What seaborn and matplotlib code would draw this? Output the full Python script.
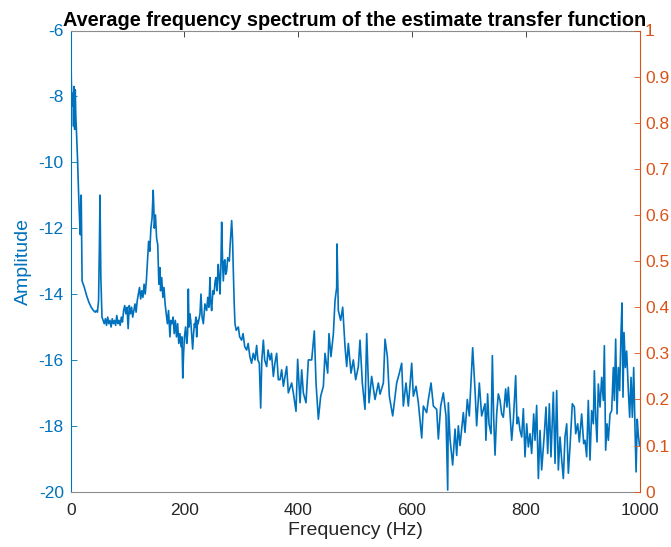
import numpy as np
import pandas as pd
import matplotlib
matplotlib.use("Agg")
import matplotlib.pyplot as plt
import seaborn as sns

# ---- data (frequency in Hz, amplitude) ----
seg_low = [(0, -6.0), (1, -7.5), (2, -8.1), (3, -8.3), (4, -7.9), (5, -8.9), (6, -7.7),
           (7, -9.0), (8, -7.8), (9, -8.6), (10, -9.0), (12, -9.9), (14, -11.0), (16, -11.9),
           (17, -12.2), (18.5, -11.0), (20, -13.6), (22, -13.7), (24, -13.8), (28, -14.05),
           (32, -14.25), (36, -14.4), (40, -14.5), (43, -14.55), (45, -14.5), (47, -14.55),
           (49, -14.2), (50.5, -12.5), (51.5, -11.0), (53, -13.5), (55, -14.7), (57, -14.8)]

seg_mid1 = [(59, -14.9), (61, -14.75), (63, -14.95), (65, -14.7), (67, -14.9), (69, -14.8),
            (71, -15.0), (73, -14.75), (75, -14.9), (77, -14.8), (79, -14.95), (81, -14.65),
            (83, -14.9), (85, -14.8), (87, -14.95), (89, -14.7), (91, -14.85), (93, -14.5),
            (95, -14.35), (97, -14.6), (99, -14.4), (101, -15.05), (103, -14.35), (105, -14.6),
            (107, -14.4), (109, -14.7), (111, -14.5), (113, -14.3), (115, -14.55), (117, -14.2),
            (119, -14.0), (121, -13.8), (123, -14.15), (125, -13.9), (127, -14.1), (129, -13.7),
            (131, -14.0), (133, -13.6), (135, -13.0), (137, -12.4), (139, -12.7), (141, -12.0),
            (143, -11.7), (145, -10.85), (146, -11.3), (147, -12.0), (149, -11.6), (151, -12.3),
            (153, -12.5), (155, -13.7), (157, -13.2), (158, -13.9), (160, -13.5), (162, -14.1),
            (164, -13.8), (166, -14.3), (168, -14.6), (170, -14.9), (172, -14.5), (174.5, -15.3),
            (176, -14.8), (178, -14.9)]

seg_mid2 = [(180, -14.7), (182, -15.2), (184, -14.8), (186, -15.3), (188, -14.9), (190, -15.5),
            (192, -15.2), (194, -15.6), (195.5, -15.3), (197, -16.55), (198.5, -15.8), (200, -15.3),
            (202, -15.0), (204, -15.5), (205.5, -15.2), (206.8, -13.85), (208, -15.0), (209.5, -14.6),
            (211, -14.8), (212.5, -15.2), (214.4, -15.67), (216, -15.2), (217.5, -14.9), (218.5, -15.0),
            (220, -14.7), (221.5, -15.3), (223, -14.8), (224, -14.9), (227.3, -14.6), (229, -14.0),
            (231, -14.7), (233.2, -14.9), (236, -14.3), (239, -14.5), (241, -14.1), (243, -14.4),
            (244.9, -13.5), (246, -14.2), (247.8, -14.5), (250, -13.9), (251.9, -14.0), (254, -13.6),
            (255.4, -13.5), (257, -13.9), (259.5, -13.1), (261, -13.5), (262.4, -14.0), (264, -13.2),
            (265.4, -11.82), (267, -13.0), (268.3, -13.6), (270, -13.0), (271.2, -12.96), (272.5, -13.4),
            (274.2, -13.3), (276, -12.9), (278.9, -13.0), (280, -12.6), (281.5, -12.2), (283, -11.77),
            (284.5, -12.3), (285.9, -13.3), (287.5, -14.3), (288.8, -14.9)]

seg_mid3 = [(291, -15.1), (294.7, -15.0), (297, -15.3), (300.5, -15.4), (303, -15.2), (306, -15.6),
            (309.3, -15.7), (312, -15.5), (315, -15.9), (318, -16.1), (321, -15.8), (324, -16.0),
            (326.9, -15.56), (329, -16.0), (331.6, -16.1), (334, -17.46), (336, -16.0), (338.7, -15.4),
            (341, -16.0), (344.5, -16.2), (347, -15.7), (350.4, -16.0), (353, -15.8), (356.3, -16.5),
            (359, -16.1), (362.1, -15.8), (365, -16.6)]

seg_mid4 = [(368, -16.6), (370.9, -16.3), (373.9, -16.8), (379.7, -16.2), (382.6, -17.0),
            (388.5, -16.7), (391.4, -17.0), (396.1, -17.56), (399, -15.98), (403.2, -17.3),
            (406.1, -16.3), (409, -17.0), (413.7, -17.3), (417.8, -16.0), (423.7, -16.0),
            (428.3, -15.12), (431.3, -16.7), (435.4, -17.8), (439.5, -17.1), (444.2, -16.8),
            (447.1, -15.8), (451.8, -16.4), (454.1, -15.2), (457.6, -15.9), (461.8, -15.2),
            (464.7, -14.2), (467.6, -13.8), (468.2, -12.48), (470.5, -14.5), (474.6, -14.8),
            (478.2, -14.4), (482.3, -15.6), (485.2, -16.2), (488.1, -15.5), (492.8, -16.4),
            (496.9, -16.0), (501, -16.6), (505.7, -16.2), (508.6, -15.4), (512.7, -16.7),
            (517.4, -17.5), (520.4, -15.2), (524.5, -17.3), (529.1, -16.5), (535, -17.2),
            (540.9, -16.7)]

seg_high1 = [(543.8, -17.04), (549.7, -16.7), (552.6, -15.37), (556.7, -15.9), (560.2, -17.1),
             (566.1, -17.7), (573.1, -16.7), (577.8, -16.4), (581.9, -16.1), (584.8, -17.4),
             (589.5, -16.7), (593.6, -17.4), (599.5, -16.1), (602.4, -17.1), (607.1, -16.8),
             (611.2, -17.3), (617.1, -18.37), (620, -17.4), (625.8, -17.6), (628.8, -17.2),
             (633.5, -16.7), (637.6, -17.4), (643.4, -17.5), (646.4, -18.4), (650.5, -17.4),
             (655.1, -17.0), (659.8, -17.7), (662.8, -19.95), (663.9, -17.3), (666.9, -18.4),
             (671.5, -19.19), (675.7, -18.1), (678.6, -18.9), (681.5, -18.0), (684.4, -18.6),
             (690.3, -17.6), (693.2, -18.2), (697.3, -17.2), (700.8, -17.7), (706.7, -15.63),
             (710.8, -16.9), (713.7, -18.0), (718.4, -16.7), (722.5, -17.7)]

seg_high2 = [(728.4, -17.33), (730, -18.44), (733, -17.03), (735.4, -17.94), (739, -18.24),
             (741.3, -15.87), (743.6, -17.74), (746, -18.89), (748.9, -17.64), (751.8, -17.03),
             (754.8, -17.23), (757.7, -17.64), (760.6, -17.74), (764.7, -16.88), (767, -17.43),
             (769.4, -16.83), (772.3, -17.64), (775.3, -18.44), (778.2, -17.84), (782.3, -16.48),
             (784.7, -17.94), (787, -17.74), (790, -18.14), (792.9, -18.34), (795.8, -17.48),
             (798.7, -18.94), (801.7, -17.94), (804.6, -18.64), (807.5, -18.24), (810.4, -18.84),
             (814, -17.64), (816.3, -18.44), (819.2, -17.38), (822.2, -19.6), (825.1, -18.14),
             (828, -19.34), (832.7, -18.24), (835.6, -17.43), (838.6, -18.84), (841.5, -17.33),
             (844.4, -18.94), (848.5, -16.98), (851.5, -19.14), (854.4, -16.93), (857.3, -19.34),
             (860.3, -18.34), (863.2, -19.04), (866.1, -19.6), (869, -18.34), (872, -17.94),
             (874.9, -19.44), (877.8, -18.64), (881.9, -17.33), (885.5, -17.43), (887.8, -18.24),
             (891.3, -17.94), (894.2, -18.49), (898.3, -17.64), (901.9, -18.54)]

seg_high3 = [(904.2, -18.44), (907.1, -18.94), (910, -17.23), (913, -19.04), (915.9, -17.54),
             (918.9, -17.94), (920.6, -16.33), (923, -17.74), (925.3, -18.49), (927.6, -16.73),
             (930.6, -17.43), (933.5, -16.53), (936.4, -17.23), (938.2, -15.57), (940.5, -18.74),
             (942.9, -17.94), (945.2, -18.44), (948.2, -17.64), (951.1, -17.54), (954, -16.23),
             (955.8, -17.23), (958.1, -15.37), (960.5, -17.64), (962.8, -16.23), (965.1, -16.93),
             (967.5, -15.17), (969.2, -14.27), (971, -17.13), (972.8, -15.17), (975.1, -16.23),
             (977.4, -15.73), (980.4, -16.93), (982.7, -17.74), (985.1, -16.53), (987.4, -17.74),
             (989.8, -16.23), (992, -18.0), (994, -19.4), (996, -17.8), (998, -18.3), (1000, -18.6)]

left_ticks = [-20, -18, -16, -14, -12, -10, -8, -6]
right_ticks = [0, 0.1, 0.2, 0.3, 0.4, 0.5, 0.6, 0.7, 0.8, 0.9, 1]
right_labels = ["0", "0.1", "0.2", "0.3", "0.4", "0.5", "0.6", "0.7", "0.8", "0.9", "1"]
x_ticks = [0, 200, 400, 600, 800, 1000]

segments = [seg_low, seg_mid1, seg_mid2, seg_mid3, seg_mid4, seg_high1, seg_high2, seg_high3]
df = pd.DataFrame([p for s in segments for p in s], columns=["freq", "amp"])
df = df.sort_values("freq").reset_index(drop=True)

BLUE = "#0072BD"
ORANGE = "#D95319"
DARK = "#262626"

sns.set_style("white")
plt.rcParams["font.family"] = ["Liberation Sans", "DejaVu Sans"]
plt.rcParams["axes.unicode_minus"] = False

W, H = 671, 547
left, right, top, bottom = 70.7, 639.5, 30.5, 491.7
fig = plt.figure(figsize=(W / 100, H / 100), dpi=100)
ax = fig.add_axes([left / W, 1 - bottom / H, (right - left) / W, (bottom - top) / H])

sns.lineplot(data=df, x="freq", y="amp", ax=ax, color=BLUE, linewidth=1.2,
             estimator=None, sort=False)

ax.set_xlim(0, 1000)
ax.set_ylim(-20, -6)
ax.set_xticks(x_ticks)
ax.set_yticks(left_ticks)
ax.set_yticklabels([str(t) for t in left_ticks])
ax.set_xlabel("Frequency (Hz)", fontsize=14, color=DARK, labelpad=3)
ax.set_ylabel("Amplitude", fontsize=14, color=BLUE, labelpad=5)
ax.tick_params(axis="x", direction="in", length=4, labelsize=12.5, colors=DARK,
               top=True, width=0.6, pad=8)
ax.tick_params(axis="y", direction="in", length=4, labelsize=12.5, colors=BLUE,
               width=0.6, pad=5)
for side in ["top", "bottom"]:
    ax.spines[side].set_color("#8c8c8c")
    ax.spines[side].set_linewidth(0.8)
ax.spines["left"].set_color(BLUE)
ax.spines["left"].set_linewidth(0.8)
ax.spines["right"].set_visible(False)

ax2 = ax.twinx()
ax2.set_ylim(0, 1)
ax2.set_yticks(right_ticks)
ax2.set_yticklabels(right_labels)
ax2.tick_params(axis="y", direction="in", length=4, labelsize=12.5, colors=ORANGE,
                width=0.6, pad=4)
for side in ["top", "bottom", "left"]:
    ax2.spines[side].set_visible(False)
ax2.spines["right"].set_color(ORANGE)
ax2.spines["right"].set_linewidth(0.8)

ax.set_title("Average frequency spectrum of the estimate transfer function",
             fontsize=14.3, fontweight="bold", color="black", pad=3)

fig.savefig("out.png", dpi=100)
